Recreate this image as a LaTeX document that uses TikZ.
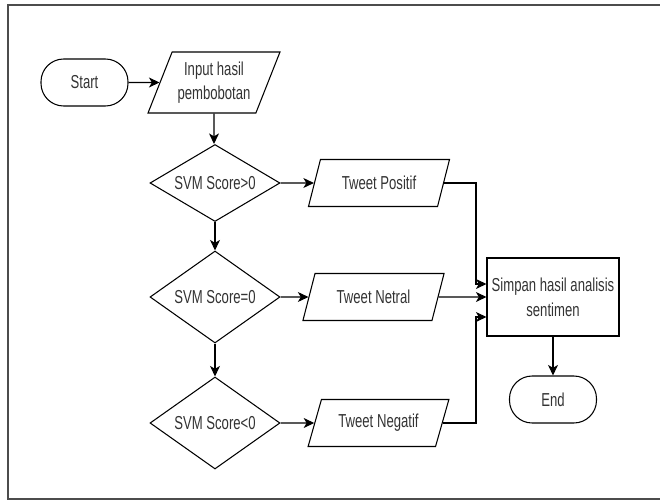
\documentclass[tikz,border=0pt]{standalone}
\usepackage{fontspec}
\newfontfamily\flowfont{Liberation Sans}[FakeStretch=0.7]
\usetikzlibrary{shapes.geometric,arrows.meta}
\begin{document}
\begin{tikzpicture}[x=0.03cm,y=-0.03cm,
  every node/.style={font=\flowfont\fontsize{16}{21}\selectfont,text=black!80},
  term/.style={draw=black,line width=0.9pt,rounded corners=0.68cm,minimum width=2.61cm,minimum height=1.41cm},
  io/.style={draw=black,line width=0.9pt,trapezium,trapezium left angle=64,trapezium right angle=116,trapezium stretches=true,align=center,inner sep=1pt},
  cond/.style={draw=black,line width=0.9pt,diamond,aspect=1.6,inner sep=1pt,minimum width=3.9cm},
  proc/.style={draw=black,line width=0.9pt,rectangle,align=center,minimum width=3.96cm,minimum height=2.34cm},
  arr/.style={line width=0.9pt,-{Stealth[length=9pt,width=8.5pt,inset=2.5pt]}}]
\useasboundingbox (0,0) rectangle (660,500);
\draw[black!70,line width=1.2pt] (662,5) -- (8,5) -- (8,499) -- (662,499);
% left column
\node (start) at (84.5,82.5) [term] {Start};
\node (inp) at (214,82.5) [io,minimum width=3.96cm,minimum height=1.83cm] {Input hasil\\pembobotan};
\node (s1) at (215,183) [cond,minimum height=2.31cm] {SVM Score>0};
\node (s2) at (215,297) [cond,minimum height=2.76cm] {SVM Score=0};
\node (s3) at (215,423) [cond,minimum height=2.76cm] {SVM Score<0};
% outputs
\node (t1) at (379,183) [io,minimum width=4.26cm,minimum height=1.41cm] {Tweet Positif};
\node (t2) at (373.5,297) [io,minimum width=4.26cm,minimum height=1.41cm] {Tweet Netral};
\node (t3) at (378.5,423) [io,minimum width=4.26cm,minimum height=1.41cm] {Tweet Negatif};
\node (save) at (553,297) [proc] {Simpan hasil analisis\\sentimen};
\node (fin) at (553,399.5) [term] {End};
\coordinate (j1) at (476,284);
\coordinate (j3) at (476,317);
\draw[arr] (start) -- (inp);
\draw[arr] (inp) -- (inp |- s1.north);
\draw[arr] (s1) -- (s2);
\draw[arr] (s2) -- (s3);
\draw[arr] (s1) -- (t1);
\draw[arr] (s2) -- (t2);
\draw[arr] (s3) -- (t3);
\draw[arr] (t1.east) -| (j1) -- (j1 -| save.west);
\draw[arr] (t2) -- (save);
\draw[arr] (t3.east) -| (j3) -- (j3 -| save.west);
\draw[arr] (save) -- (fin);
\end{tikzpicture}
\end{document}
